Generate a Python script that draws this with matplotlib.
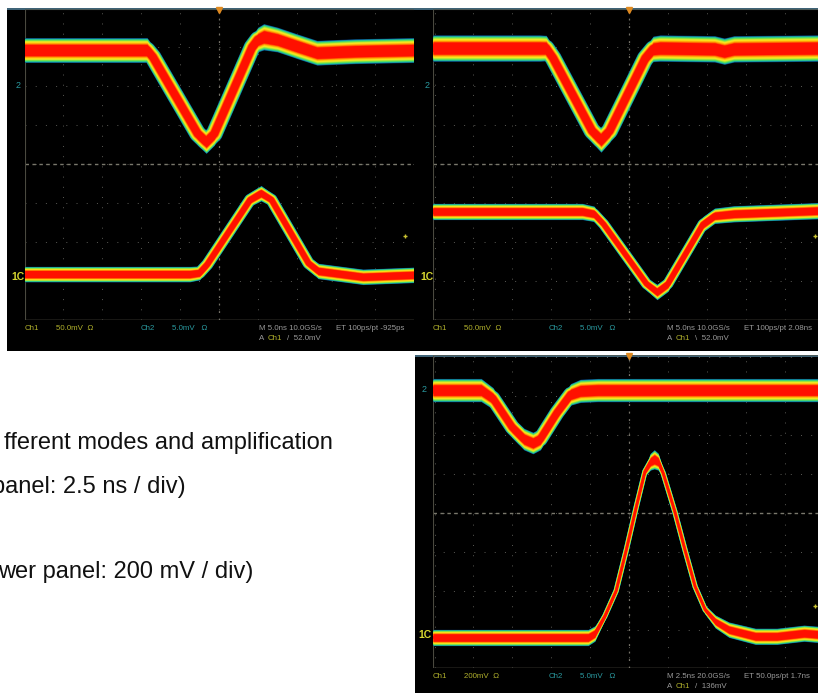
import matplotlib
matplotlib.use("Agg")
import matplotlib.pyplot as plt
import numpy as np
from matplotlib.patches import Rectangle

W, H = 818, 693
plt.rcParams['font.family'] = ['Liberation Sans', 'DejaVu Sans']

# Traces: time (div from centre), level (div from centre), half-thickness of the band (div)
p1_top_x = [-5.0, -2.0, -1.85, -1.7, -0.55, -0.33, -0.12, 0.85, 1.0, 1.15, 1.5, 2.0, 2.52, 3.5, 5.0]
p1_top_y = [2.93, 2.93, 2.93, 2.75, 0.78, 0.57, 0.78, 3.0, 3.2, 3.27, 3.2, 3.03, 2.86, 2.9, 2.93]
p1_top_w = [0.32, 0.32, 0.32, 0.3, 0.3, 0.3, 0.3, 0.3, 0.32, 0.34, 0.32, 0.32, 0.32, 0.32, 0.32]
p1_low_x = [-5.0, -0.75, -0.5, -0.3, 0.8, 1.08, 1.35, 2.3, 2.55, 3.7, 5.0]
p1_low_y = [-2.83, -2.83, -2.8, -2.58, -0.92, -0.75, -0.92, -2.55, -2.75, -2.9, -2.85]
p1_low_w = [0.2, 0.2, 0.18, 0.17, 0.17, 0.2, 0.17, 0.17, 0.2, 0.2, 0.2]

p2_top_x = [-5.04, -2.3, -2.13, -1.95, -0.95, -0.72, -0.5, 0.42, 0.62, 0.8, 2.2, 2.45, 2.7, 4.86]
p2_top_y = [2.98, 2.98, 2.98, 2.72, 0.85, 0.62, 0.85, 2.72, 2.96, 2.98, 2.96, 2.9, 2.96, 2.98]
p2_top_w = [0.34, 0.34, 0.33, 0.31, 0.3, 0.32, 0.3, 0.3, 0.33, 0.34, 0.34, 0.34, 0.34, 0.34]
p2_low_x = [-5.04, -1.2, -0.9, -0.65, 0.45, 0.72, 1.0, 1.9, 2.2, 2.7, 4.86]
p2_low_y = [-1.22, -1.22, -1.28, -1.55, -3.08, -3.29, -3.08, -1.55, -1.33, -1.28, -1.2]
p2_low_w = [0.21, 0.21, 0.2, 0.15, 0.17, 0.2, 0.2, 0.2, 0.2, 0.21, 0.21]

p3_top_x = [-5.04, -3.8, -3.5, -3.0, -2.7, -2.47, -2.28, -1.85, -1.5, -1.25, -0.8, 4.86]
p3_top_y = [3.16, 3.16, 2.95, 2.2, 1.9, 1.8, 1.9, 2.58, 3.05, 3.14, 3.16, 3.16]
p3_top_w = [0.3, 0.3, 0.28, 0.27, 0.28, 0.28, 0.28, 0.27, 0.28, 0.3, 0.3, 0.3]
p3_low_x = [-5.04, -1.05, -0.88, -0.62, -0.33, -0.07, 0.19, 0.41, 0.55, 0.65, 0.75, 0.88, 1.18, 1.44, 1.7, 1.96, 2.22, 2.57, 3.25, 3.8, 4.5, 4.86]
p3_low_y = [-3.2, -3.2, -3.1, -2.65, -2.0, -0.95, 0.17, 1.07, 1.32, 1.38, 1.32, 1.02, 0.03, -0.95, -1.89, -2.49, -2.79, -3.0, -3.17, -3.17, -3.09, -3.12]
p3_low_w = [0.21, 0.21, 0.2, 0.1, 0.07, 0.07, 0.07, 0.12, 0.22, 0.25, 0.22, 0.12, 0.07, 0.07, 0.08, 0.12, 0.17, 0.2, 0.21, 0.21, 0.21, 0.21]

# Readouts
ch1_labels = ["50.0mV", "50.0mV", "200mV"]
timebase_labels = ["M 5.0ns 10.0GS/s", "M 5.0ns 10.0GS/s", "M 2.5ns 20.0GS/s"]
et_labels = ["ET 100ps/pt -925ps", "ET 100ps/pt 2.08ns", "ET 50.0ps/pt 1.7ns"]
trig_labels = ["/  52.0mV", "\\  52.0mV", "/  136mV"]

caption_lines = ["fferent modes and amplification", "panel: 2.5 ns / div)", "wer panel: 200 mV / div)"]

# colour ramp from the outer edge of a band to its core
BAND_COLORS = ["#06306a", "#0e80a0", "#20b8a0", "#40d878", "#78e448", "#c8e830",
               "#f8e820", "#ffc810", "#ff9000", "#ff4800", "#ff1000"]
BAND_FRACS = [1.0, 0.97, 0.93, 0.88, 0.83, 0.77, 0.71, 0.64, 0.57, 0.5, 0.45]
YELLOW, CYAN, GREY = "#b0b02c", "#2a9aa0", "#9a9a9a"

PX_PER_DIV = 38.9


def fx(px):
    return px / W


def fy(py):
    return 1 - py / H


fig = plt.figure(figsize=(W / 100, H / 100), dpi=100, facecolor="white")


def draw_panel(black, grid, centre, traces, ch1, tb, et, trig, text_y, right_mark):
    bx0, by0, bx1, by1 = black
    fig.add_artist(Rectangle((fx(bx0), fy(by1)), (bx1 - bx0) / W, (by1 - by0) / H,
                             transform=fig.transFigure, facecolor="black", edgecolor="none", zorder=0))
    fig.add_artist(Rectangle((fx(bx0), fy(by0 + 1.5)), (bx1 - bx0) / W, 1.5 / H,
                             transform=fig.transFigure, facecolor="#3f6478", edgecolor="none", zorder=0))
    gx0, gy0, gx1, gy1 = grid
    cx, cy = centre
    ax = fig.add_axes([fx(gx0), fy(gy1), (gx1 - gx0) / W, (gy1 - gy0) / H], facecolor="none", zorder=2)
    ax.set_xlim((gx0 - cx) / PX_PER_DIV, (gx1 - cx) / PX_PER_DIV)
    ax.set_ylim((cy - gy1) / PX_PER_DIV, (cy - gy0) / PX_PER_DIV)
    ax.axis("off")

    xl, yl = ax.get_xlim(), ax.get_ylim()
    # graticule: dim dots on every division, brighter crosshair with ticks
    for v in range(-5, 6):
        ax.plot([v, v], yl, color="#5a5a55", lw=0.7, ls=(0, (1, 9.5)), zorder=1)
    for v in range(-4, 5):
        ax.plot(xl, [v, v], color="#5a5a55", lw=0.7, ls=(0, (1, 9.5)), zorder=1)
    ax.plot([0, 0], yl, color="#77746a", lw=0.9, ls=(0, (1.5, 4.5)), zorder=1)
    ax.plot(xl, [0, 0], color="#7a786c", lw=1.0, ls=(0, (2.5, 2.5)), zorder=1)
    ax.plot(xl, [yl[0], yl[0]], color="#7d7a6a", lw=1.0, zorder=1)
    ax.plot([xl[0], xl[0]], yl, color="#4a493f", lw=0.8, zorder=1)
    ax.plot(xl, [yl[1], yl[1]], color="#4a5a5a", lw=0.8, zorder=1)

    for tx, ty, tw, stroke_px in traces:
        tx, ty, tw = map(np.asarray, (tx, ty, tw))
        for col, frac in zip(BAND_COLORS, BAND_FRACS):
            ax.fill_between(tx, ty - tw * frac, ty + tw * frac, color=col, lw=0, zorder=3)
            ax.plot(tx, ty, color=col, lw=stroke_px * frac * 0.72, solid_joinstyle="round",
                    solid_capstyle="butt", zorder=3)

    # trigger arrow on top, trigger level mark on the right
    ax.plot([0.0], [yl[1] - 0.03], marker="v", ms=4.5, color="#e08a20", clip_on=False, zorder=4)
    ax.plot([right_mark[0]], [right_mark[1]], marker="+", ms=3.5, mew=1.0, color="#c8c030",
            clip_on=False, zorder=4)

    # readout rows
    ox = gx0
    fs = 5.7
    fig.text(fx(ox), fy(text_y), "Ch1", color=YELLOW, fontsize=fs, va="center", zorder=3)
    fig.text(fx(ox + 31), fy(text_y), ch1 + "  Ω", color=YELLOW, fontsize=fs, va="center", zorder=3)
    fig.text(fx(ox + 116), fy(text_y), "Ch2", color=CYAN, fontsize=fs, va="center", zorder=3)
    fig.text(fx(ox + 147), fy(text_y), "5.0mV   Ω", color=CYAN, fontsize=fs, va="center", zorder=3)
    fig.text(fx(ox + 234), fy(text_y), tb, color=GREY, fontsize=fs, va="center", zorder=3)
    fig.text(fx(ox + 311), fy(text_y), et, color=GREY, fontsize=fs, va="center", zorder=3)
    fig.text(fx(ox + 234), fy(text_y + 10), "A", color=GREY, fontsize=fs, va="center", zorder=3)
    fig.text(fx(ox + 243), fy(text_y + 10), "Ch1", color=YELLOW, fontsize=fs, va="center", zorder=3)
    fig.text(fx(ox + 262), fy(text_y + 10), trig, color=GREY, fontsize=fs, va="center", zorder=3)
    return ax


draw_panel((7, 8, 415, 351), (25, 9, 414, 320), (219, 164),
           [(p1_top_x, p1_top_y, p1_top_w, 17), (p1_low_x, p1_low_y, p1_low_w, 12)],
           ch1_labels[0], timebase_labels[0], et_labels[0], trig_labels[0], 328, (4.78, -1.86))
draw_panel((415, 8, 818, 351), (433, 9, 818, 320), (629, 164),
           [(p2_top_x, p2_top_y, p2_top_w, 17), (p2_low_x, p2_low_y, p2_low_w, 11)],
           ch1_labels[1], timebase_labels[1], et_labels[1], trig_labels[1], 328, (4.78, -1.86))
draw_panel((415, 355, 818, 693), (433, 355, 818, 668), (629, 513),
           [(p3_top_x, p3_top_y, p3_top_w, 15), (p3_low_x, p3_low_y, p3_low_w, 5.5)],
           ch1_labels[2], timebase_labels[2], et_labels[2], trig_labels[2], 676, (4.78, -2.4))

# channel markers at the left of each graticule
for px, py in [(18, 85), (427, 85), (424, 390)]:
    fig.text(fx(px), fy(py), "2", color=CYAN, fontsize=6.5, va="center", ha="center", zorder=5)
for px, py in [(18, 277), (427, 277), (425, 635)]:
    fig.text(fx(px), fy(py), "1C", color="#d8d830", fontsize=7.5, fontweight="bold", va="center", ha="center", zorder=5)

# caption, cut off by the left border of the picture
for txt, right, base in zip(caption_lines, [333, 186, 253], [449, 493, 578]):
    fig.text(fx(right), fy(base), txt, color="#111111", fontsize=17.0, ha="right", va="baseline", zorder=5)

fig.savefig("out.png", dpi=100, facecolor="white")
